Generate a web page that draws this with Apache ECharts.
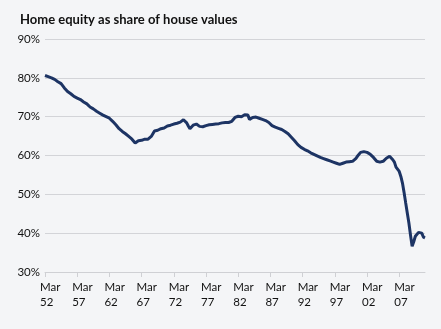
<!DOCTYPE html>
<html>
<head>
<meta charset="utf-8">
<script src="https://cdn.jsdelivr.net/npm/echarts@6/dist/echarts.min.js"></script>
<style>
html,body{margin:0;padding:0;background:#f4f5f7;}
#c{width:441px;height:329px;}
</style>
</head>
<body>
<div id="c"></div>
<script>
var title = 'Home equity as share of house values';
var months = ['Mar', 'Jun', 'Sep', 'Dec'];
var firstYear = 1952;
var yTicks = [30, 40, 50, 60, 70, 80, 90];
// Quarterly home equity share (%), 1952 Q1 .. 2011 Q1
var equity = [
  80.6, 80.5, 80.3, 80.2, 80.0, 79.8, 79.6, 79.4, 79.0, 78.8, 78.5, 78.0, 77.4, 77.0, 76.5, 76.2, 75.9, 75.6, 75.2, 75.1,
  74.8, 74.7, 74.4, 74.1, 73.8, 73.5, 73.3, 72.9, 72.5, 72.2, 72.0, 71.7, 71.4, 71.1, 70.9, 70.6, 70.4, 70.2, 70.0, 69.8,
  69.6, 69.2, 68.8, 68.4, 67.9, 67.4, 66.9, 66.5, 66.2, 65.9, 65.6, 65.3, 64.9, 64.5, 64.2, 63.8, 63.2, 63.6, 63.8, 64.0,
  63.9, 64.1, 64.2, 64.4, 64.2, 64.6, 64.9, 65.6, 66.3, 66.2, 66.5, 66.7, 66.9, 67.3, 67.1, 67.4, 67.6, 67.5, 67.8, 67.9,
  68.1, 68.0, 68.3, 68.4, 68.6, 68.9, 69.2, 69.0, 68.4, 67.6, 66.9, 67.0, 67.8, 68.2, 68.1, 67.7, 67.5, 67.6, 67.4, 67.6,
  67.7, 67.5, 67.9, 67.8, 68.0, 67.9, 68.1, 68.0, 68.2, 68.3, 68.4, 68.2, 68.5, 68.4, 68.5, 68.6, 68.8, 69.3, 69.8, 70.0,
  70.1, 70.2, 70.0, 70.3, 70.5, 70.6, 70.4, 69.3, 69.5, 69.8, 70.0, 69.9, 69.8, 69.6, 69.5, 69.3, 69.1, 69.0, 68.8, 68.5,
  68.0, 67.7, 67.5, 67.3, 67.2, 67.0, 66.9, 66.7, 66.5, 66.2, 65.9, 65.6, 65.1, 64.7, 64.3, 63.8, 63.3, 62.8, 62.4, 62.1,
  61.8, 61.6, 61.4, 61.2, 61.0, 60.7, 60.5, 60.3, 60.1, 59.9, 59.7, 59.5, 59.3, 59.2, 59.0, 58.9, 58.7, 58.6, 58.4, 58.3,
  58.1, 58.0, 57.9, 57.7, 57.9, 58.0, 58.2, 58.3, 58.3, 58.4, 58.4, 58.5, 58.4, 59.2, 59.8, 60.3, 60.8, 61.2, 61.0, 61.0,
  60.8, 60.6, 60.3, 60.0, 59.5, 59.0, 58.5, 58.1, 58.3, 58.6, 58.5, 58.7, 59.3, 59.6, 59.8, 59.7, 58.9, 58.3, 57.0, 56.6,
  55.9, 54.6, 52.9, 50.5, 47.8, 45.2, 42.6, 39.5, 36.6, 37.8, 39.2, 39.6, 40.2, 40.7, 40.0, 39.0, 38.8
];
var categories = [];
for (var i = 0; i < equity.length; i++) {
  var yr = firstYear + Math.floor(i / 4);
  categories.push(months[i % 4] + ' ' + String(yr % 100).padStart(2, '0'));
}

var chart = echarts.init(document.getElementById('c'));
var font = 'Lato, "Open Sans", sans-serif';
chart.setOption({
  backgroundColor: '#f4f5f7',
  animation: false,
  title: {
    text: title,
    left: 15, top: 8,
    textStyle: { fontFamily: font, fontSize: 13, fontWeight: 'bold', color: '#111' }
  },
  grid: { left: 45, right: 16, top: 39, bottom: 57 },
  xAxis: {
    type: 'category',
    data: categories,
    boundaryGap: false,
    axisLine: { show: true, lineStyle: { color: '#cfd0d4', width: 1 } },
    axisTick: { show: true, length: 5, interval: function (i) { return i % 20 === 0; }, lineStyle: { color: '#cfd0d4' } },
    axisLabel: {
      interval: function (i) { return i % 20 === 0; },
      formatter: function (v) { return v.replace(' ', '\n'); },
      align: 'left',
      padding: [0, 0, 0, -5],
      margin: 8,
      lineHeight: 15,
      fontFamily: font, fontSize: 11.5, color: '#111'
    },
    splitLine: { show: false }
  },
  yAxis: {
    type: 'value',
    min: yTicks[0], max: yTicks[yTicks.length - 1], interval: 10,
    axisLine: { show: false },
    axisTick: { show: false },
    axisLabel: { formatter: '{value}%', margin: 5, fontFamily: font, fontSize: 11.5, color: '#111' },
    splitLine: { lineStyle: { color: '#d3d4d8', width: 1 } }
  },
  series: [{
    type: 'line',
    data: equity,
    showSymbol: false,
    smooth: false,
    lineStyle: { color: '#1d3464', width: 3 },
    z: 3
  }]
});
</script>
</body>
</html>
